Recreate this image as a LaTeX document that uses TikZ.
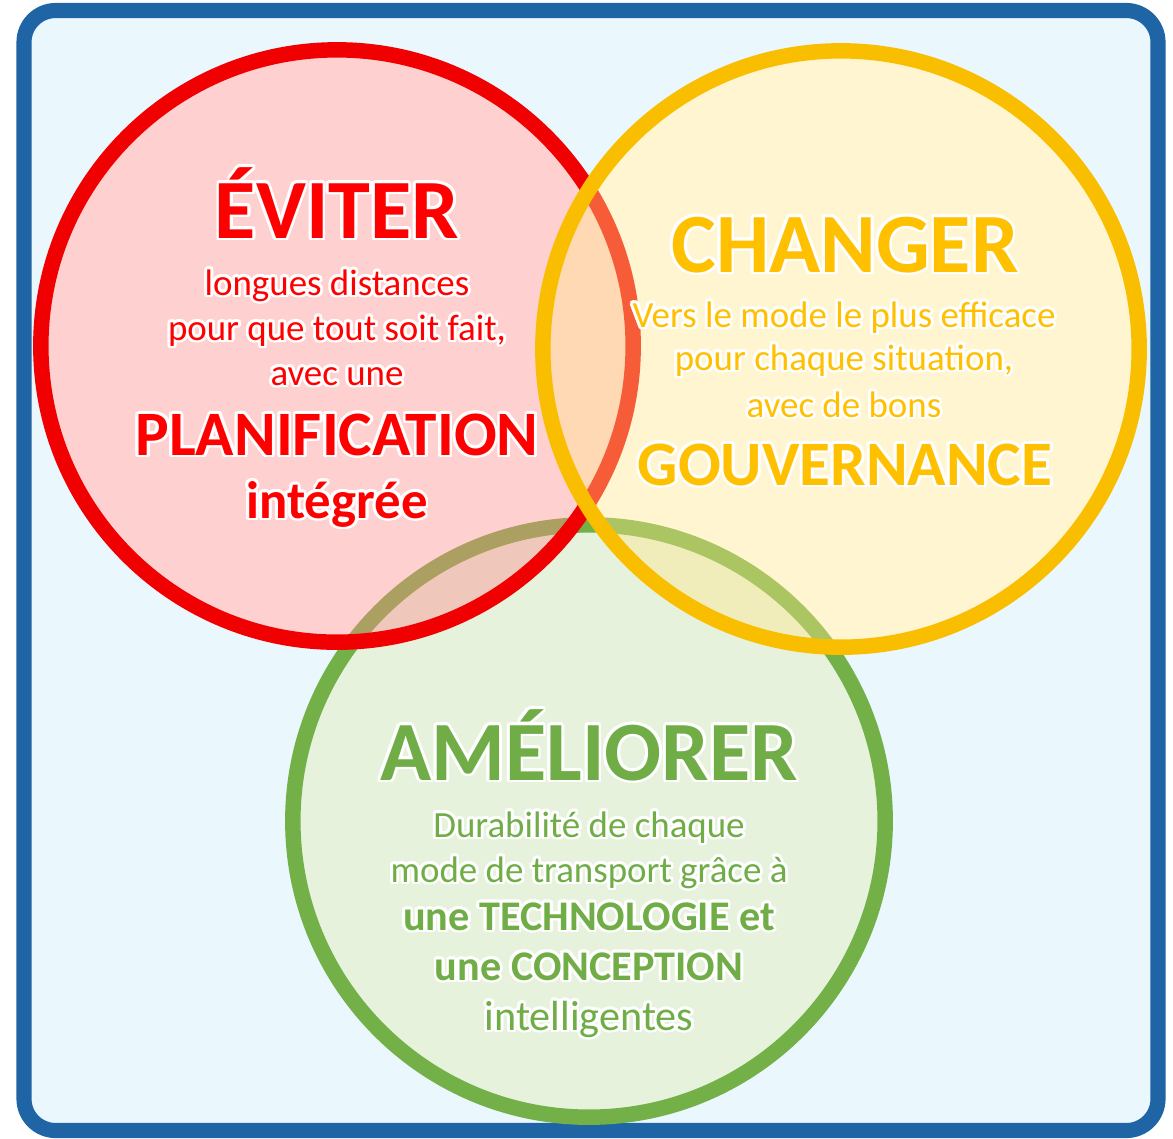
\documentclass[tikz,border=0pt]{standalone}
\usepackage{fontspec}
\setmainfont{Carlito}
\usepackage{contour}
\contourlength{0.8pt}
\usepackage{tikz}
\usetikzlibrary{positioning}

\definecolor{frameblue}{RGB}{31,100,165}
\definecolor{paleblue}{RGB}{234,247,253}
\definecolor{evred}{RGB}{255,0,0}
\definecolor{ringred}{RGB}{240,0,0}
\definecolor{tintred}{RGB}{255,138,138}
\definecolor{chyellow}{RGB}{255,192,0}
\definecolor{ringyellow}{RGB}{250,190,0}
\definecolor{tintyellow}{RGB}{255,230,138}
\definecolor{amgreen}{RGB}{112,173,71}
\definecolor{ringgreen}{RGB}{115,176,72}
\definecolor{tintgreen}{RGB}{230,242,220}

\newcommand\glow[1]{\contour{white}{#1}}

\begin{document}
\begin{tikzpicture}[x=0.01cm,y=-0.01cm,
  ring/.style={line width=4.4pt},
  title/.style={anchor=base,font=\fontsize{24}{28}\selectfont\bfseries},
  body/.style={anchor=base,font=\fontsize{10.5}{12}\selectfont},
  strong/.style={anchor=base,font=\fontsize{18}{21}\selectfont\bfseries}]
\useasboundingbox (0,0) rectangle (1173,1138);
\filldraw[draw=frameblue,fill=paleblue,line width=4.3pt,rounded corners=9pt] (24,10.5) rectangle (1158,1130.5);

\coordinate (rc) at (337,346);
\coordinate (yc) at (841,349);
\coordinate (gc) at (589,821);

% circles
\fill[white] (rc) circle [radius=2.96cm] (yc) circle [radius=2.98cm];
\fill[tintgreen] (gc) circle [radius=2.96cm];
\draw[ring,ringgreen] (gc) circle [radius=2.96cm];
\fill[tintred,fill opacity=0.4] (rc) circle [radius=2.96cm];
\draw[ring,ringred] (rc) circle [radius=2.96cm];
\fill[tintyellow,fill opacity=0.4] (yc) circle [radius=2.98cm];
\draw[ring,ringyellow] (yc) circle [radius=2.98cm];

% eviter
\node[title,evred] (eviter) at (337,238) {\glow{ÉVITER}};
\foreach \y/\t [count=\i] in {295/longues distances,340/{pour que tout soit fait,},385/avec une}
  \node[body,evred] (evl\i) at (337,\y) {\glow{\t}};
\node[strong,evred] (plan) at (337,455) {\glow{PLANIFICATION}};
\node[anchor=base,evred,font=\fontsize{15}{18}\selectfont\bfseries] (integ) at (337,518) {\glow{intégrée}};

% changer
\node[title,chyellow] (changer) at (845,272) {\glow{CHANGER}};
\foreach \y/\t [count=\i] in {327/Vers le mode le plus efficace,370/{pour chaque situation,},417/avec de bons}
  \node[body,chyellow] (chl\i) at (844,\y) {\glow{\t}};
\node[strong,chyellow] (gouv) at (845,485) {\glow{GOUVERNANCE}};

% ameliorer
\node[title,amgreen] (ameliorer) at (589,780) {\glow{AMÉLIORER}};
\foreach \y/\t [count=\i] in {837/Durabilité de chaque,882/mode de transport grâce à}
  \node[body,amgreen] (aml\i) at (589,\y) {\glow{\t}};
\foreach \y/\t [count=\i] in {930/une TECHNOLOGIE et,980/une CONCEPTION}
  \node[anchor=base,amgreen,font=\fontsize{12}{14}\selectfont\bfseries] (amb\i) at (589,\y) {\glow{\t}};
\node[anchor=base,amgreen,font=\fontsize{12}{14}\selectfont] (intel) at (589,1030) {\glow{intelligentes}};
\end{tikzpicture}
\end{document}
